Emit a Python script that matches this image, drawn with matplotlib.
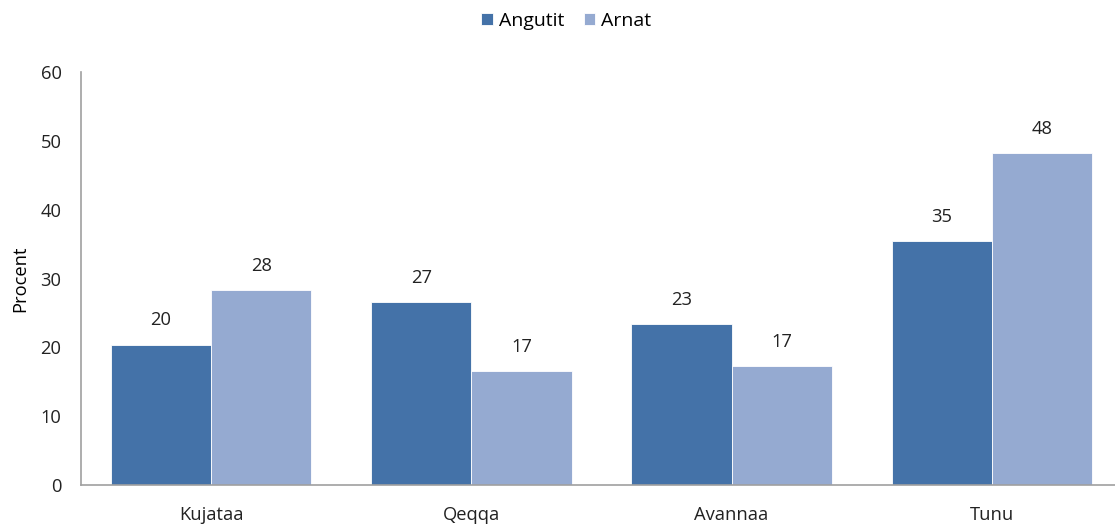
import numpy as np
import matplotlib
matplotlib.use("Agg")
import matplotlib.pyplot as plt

# data
regions = ["Kujataa", "Qeqqa", "Avannaa", "Tunu"]
angutit = [20.4, 26.6, 23.4, 35.4]
arnat = [28.3, 16.6, 17.3, 48.2]
yticks = [0, 10, 20, 30, 40, 50, 60]

c_men = "#4472a8"
c_women = "#95aad1"

plt.rcParams["font.family"] = ["Open Sans", "DejaVu Sans"]
plt.rcParams["font.size"] = 13.2

fig = plt.figure(figsize=(11.15, 5.24), dpi=100)
ax = fig.add_axes([81 / 1115, 1 - 485 / 524, 1041 / 1115, 413 / 524])

x = np.arange(len(regions))
w = 0.385
b1 = ax.bar(x - w / 2, angutit, w, color=c_men, edgecolor="white", linewidth=0.6, label="Angutit")
b2 = ax.bar(x + w / 2, arnat, w, color=c_women, edgecolor="white", linewidth=0.6, label="Arnat")

for bars, vals in [(b1, angutit), (b2, arnat)]:
    for rect, v in zip(bars, vals):
        ax.text(rect.get_x() + rect.get_width() / 2, v + 2.2, f"{v:.0f}",
                ha="center", va="bottom", color="#222222")

ax.set_xlim(-0.5, len(regions) - 0.5)
ax.set_ylim(0, 60)
ax.set_yticks(yticks)
ax.set_xticks(x)
ax.set_xticklabels(regions)
ax.tick_params(axis="both", length=0, colors="#222222")
ax.tick_params(axis="y", pad=14)
ax.tick_params(axis="x", pad=15)
ax.set_ylabel("Procent", labelpad=8)

for s in ["top", "right"]:
    ax.spines[s].set_visible(False)
for s in ["left", "bottom"]:
    ax.spines[s].set_color("#a0a0a0")
    ax.spines[s].set_linewidth(1.2)

fig.legend(handles=[b1, b2], loc="center", bbox_to_anchor=(0.508, 1 - 21 / 524),
           ncol=2, frameon=False, handlelength=0.6, handleheight=0.6,
           handletextpad=0.3, columnspacing=1.0, fontsize=14)

fig.savefig("out.png", dpi=100)
